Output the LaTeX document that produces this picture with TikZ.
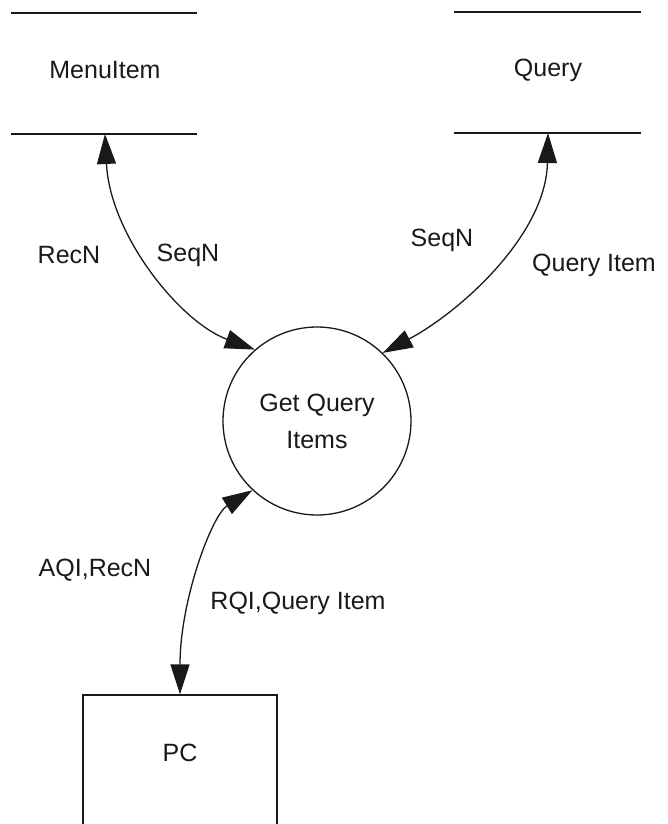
\documentclass[tikz,border=0pt]{standalone}
\usepackage{fontspec}
\setmainfont{Liberation Sans}
\usetikzlibrary{arrows.meta}
\begin{document}
\begin{tikzpicture}[x=1pt,y=-1pt,
  ln/.style={line width=1.4pt,black!90},
  flow/.style={line width=1.3pt,black!90,{Triangle[length=30pt,width=19pt]}-{Triangle[length=30pt,width=19pt]}},
  lbl/.style={font=\fontsize{25}{29}\selectfont,text=black!90},
  proc/.style={circle,draw,line width=1.3pt,black!90,minimum size=188pt,inner sep=0pt,align=center,font=\fontsize{25}{37}\selectfont}
]
\useasboundingbox (0,0) rectangle (667,824);
\clip (0,0) rectangle (667,824);
% data stores
\draw[ln] (11,13) -- (197,13);
\draw[ln] (11,134) -- (197,134);
\node[lbl] (mt) at (105,70) {MenuItem};
\coordinate (m) at (105,134);
\draw[ln] (454,12) -- (641,12);
\draw[ln] (454,133) -- (641,133);
\node[lbl] (qt) at (548,70) {Query};
\coordinate (q) at (548,133);
% process
\node[proc] (p) at (317,421) {Get Query\\Items};
% external entity
\node[draw,line width=1.3pt,black!90,minimum width=194pt,minimum height=160pt,inner sep=0pt] (pcbox) at (180,775) {};
\node[lbl] (pct) at (180,753) {PC};
% flows
\draw[flow] (m) .. controls (110,235) and (180,322) .. (p.131);
\draw[flow] (q) .. controls (546,235) and (460,312) .. (p.46);
\draw[flow] (p.227) .. controls (212,515) and (180,600) .. (pcbox.north);
% labels
\node[lbl] (l1) at (69,255) {RecN};
\node[lbl] (l2) at (188,255) {SeqN};
\node[lbl] (l3) at (442,240) {SeqN};
\node[lbl] (l4) at (594,265) {Query Item};
\node[lbl] (l5) at (95,570) {AQI,RecN};
\node[lbl] (l6) at (298,603) {RQI,Query Item};
\end{tikzpicture}
\end{document}
